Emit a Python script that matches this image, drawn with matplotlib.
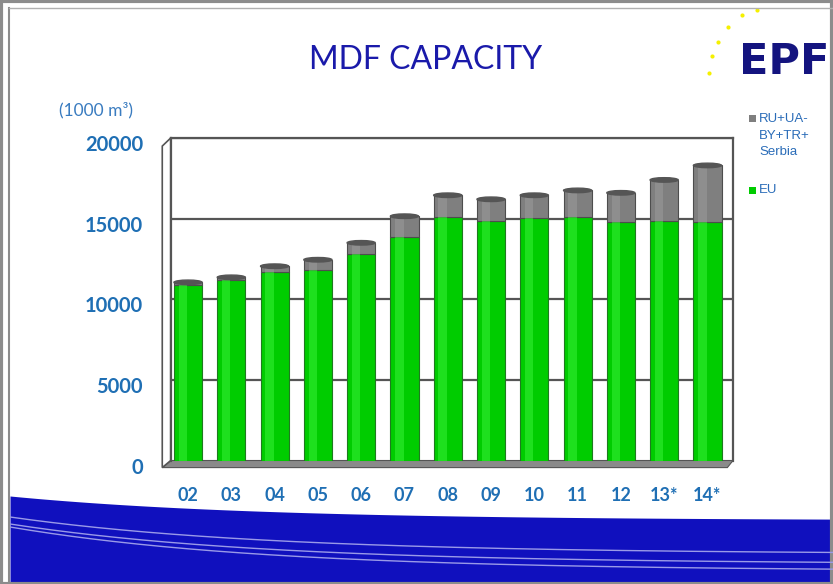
import numpy as np
import matplotlib.pyplot as plt
from matplotlib.patches import Rectangle, Polygon, Ellipse
import matplotlib.transforms as mtransforms

years = ['02', '03', '04', '05', '06', '07', '08', '09', '10', '11', '12', '13*', '14*']
eu = [10900, 11200, 11700, 11800, 12800, 13850, 15100, 14850, 15050, 15100, 14800, 14850, 14800]
other = [150, 160, 350, 650, 700, 1300, 1350, 1350, 1400, 1650, 1800, 2550, 3500]
yticks = [0, 5000, 10000, 15000, 20000]

label_blue = '#1f6fb4'
green = '#00cc00'
grey = '#7f7f7f'

W, H = 833, 584
fig = plt.figure(figsize=(W / 100, H / 100), dpi=100)
fig.patch.set_facecolor('white')

# background decoration (frame + blue wave at the bottom)
bg = fig.add_axes([0, 0, 1, 1], zorder=0)
bg.set_xlim(0, W)
bg.set_ylim(H, 0)
bg.axis('off')
xs = np.linspace(10, W, 200)
top_edge = 496 + 24 * (1 - np.exp(-(xs - 10) / 250))
bg.fill_between(xs, top_edge, 583, color='#1010be', lw=0)
for y0, y1 in [(517, 554), (524, 564), (527, 571)]:
    yy = y0 + (y1 - y0) * (1 - np.exp(-(xs - 10) / 260))
    bg.plot(xs, yy, color='#9a9ae8', lw=1.0)
bg.add_patch(Rectangle((0.5, 0.5), W - 1, H - 1, fill=False, ec='#8c8c8c', lw=3))
bg.plot([9, 9], [8, H], color='#8c8c8c', lw=1.5)
bg.plot([9, W], [8, 8], color='#b0b0b0', lw=1.0)

# EPF logo
bg.text(739, 62, 'EPF', fontsize=31, fontweight='bold', color='#14147f',
        va='center', ha='left', family='DejaVu Sans')
dots = [(709, 73), (712, 56), (718, 42), (728, 27), (742, 15), (757, 10)]
bg.scatter([d[0] for d in dots], [d[1] for d in dots], s=9, color='#f5f000', lw=0)

# title and unit
fig.text(426 / W, 1 - 60 / H, 'MDF CAPACITY', fontsize=23, color='#1a1aaa',
         ha='center', va='center', family='Lato')
fig.text(96 / W, 1 - 110 / H, '(1000 m³)', fontsize=12.5, color='#3a7cc0',
         ha='center', va='center', family='Lato')

# chart
ax = fig.add_axes([170.7 / W, 1 - 460.5 / H, (733 - 170.7) / W, (460.5 - 138) / H], zorder=2)
x = np.arange(len(years))
ax.set_xlim(-0.40, 12.59)
ax.set_ylim(0, 20000)
for y in yticks[1:]:
    ax.axhline(y, color='#555555', lw=1.6, zorder=1)

w = 0.65
ax.bar(x, eu, width=w, color=green, edgecolor='#1f7a1f', lw=0.8, zorder=3)
ax.bar(x, other, bottom=eu, width=w, color=grey, edgecolor='#4d4d4d', lw=0.8, zorder=3)
# cylinder shading
ax.bar(x - w * 0.18, eu, width=w * 0.3, color='#33ee33', lw=0, alpha=0.6, zorder=4)
ax.bar(x - w * 0.18, other, bottom=eu, width=w * 0.3, color='#999999', lw=0, alpha=0.6, zorder=4)
tot = np.array(eu) + np.array(other)
for xi, t in zip(x, tot):
    ax.add_patch(Ellipse((xi, t), w, 280, color='#555555', zorder=5, clip_on=False))

for s in ['top', 'right', 'left']:
    ax.spines[s].set_color('#555555')
    ax.spines[s].set_linewidth(1.6)
ax.spines['bottom'].set_visible(False)

# floor and side wall
tr = ax.transAxes
ax.add_patch(Polygon([(-0.015, -0.022), (0.0, 0.0), (1.0, 0.0), (0.99, -0.022)],
                     closed=True, transform=tr, fc='#8a8a8a', ec='#555555', lw=0.8, clip_on=False, zorder=2))
ax.add_patch(Polygon([(-0.015, -0.022), (0.0, 0.0), (0.0, 1.0), (-0.015, 0.975)],
                     closed=True, transform=tr, fc='white', ec='#555555', lw=1.2, clip_on=False, zorder=2))

ax.set_yticks(yticks)
ax.set_yticklabels([str(v) for v in yticks])
ax.set_xticks(x)
ax.set_xticklabels(years)
ax.tick_params(length=0)
ax.tick_params(axis='y', pad=20)
ax.tick_params(axis='x', pad=19)
offset = mtransforms.ScaledTranslation(0, -5 / 100, fig.dpi_scale_trans)
for lab in ax.get_yticklabels():
    lab.set_transform(lab.get_transform() + offset)
    lab.set_fontsize(14.5)
for lab in ax.get_xticklabels():
    lab.set_fontsize(13)
for lab in ax.get_yticklabels() + ax.get_xticklabels():
    lab.set_color(label_blue)
    lab.set_fontweight('bold')
    lab.set_family('Lato')

# legend
fig.patches.append(Rectangle((749 / W, 1 - 122 / H), 7 / W, 7 / H, transform=fig.transFigure,
                             fc=grey, ec='none'))
fig.text(759 / W, 1 - 113 / H, 'RU+UA-\nBY+TR+\nSerbia', fontsize=9.5, color='#2a6cb8',
         ha='left', va='top', linespacing=1.5, family='Liberation Sans')
fig.patches.append(Rectangle((749 / W, 1 - 194 / H), 7 / W, 7 / H, transform=fig.transFigure,
                             fc=green, ec='none'))
fig.text(759 / W, 1 - 190 / H, 'EU', fontsize=9.5, color='#2a6cb8', ha='left', va='center',
         family='Liberation Sans')

fig.savefig('out.png', dpi=100)
